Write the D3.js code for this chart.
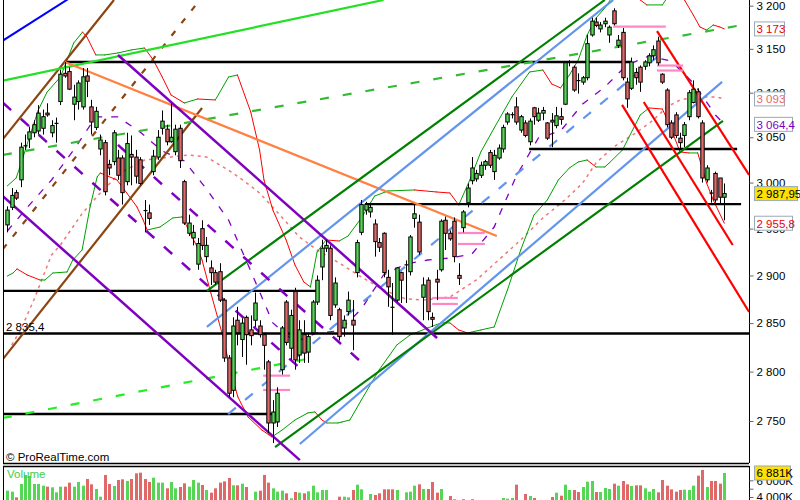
<!DOCTYPE html>
<html><head><meta charset="utf-8">
<script src="https://cdn.jsdelivr.net/npm/d3@7"></script>
<style>body{margin:0;background:#fff;} svg{display:block;font-family:"Liberation Sans",Arial,sans-serif;}</style>
</head><body><svg id="c" width="800" height="500"></svg>
<script>
// ---------- DATA ----------
const opens=[2954,2973,2989,3003,3040,3048,3055,3057,3060,3077,3055,3065,3090,3122,3124,3087,3090,3084,3119,3084,3061,3037,3044,3020,3023,3027,3027,3001,3031,3028,3025,2970,2967,3012,3028,3060,3059,3045,3034,3060,3001,2945,2940,2912,2950,2920,2908,2903,2904,2874,2814,2781,2853,2833,2856,2843,2853,2847,2838,2810,2748,2749,2802,2872,2824,2883,2817,2838,2820,2840,2872,2909,2929,2929,2869,2864,2845,2862,2853,2903,2946,2970,2968,2955,2935,2945,2898,2867,2874,2903,2911,2904,2961,2957,2877,2895,2856,2896,2906,2959,2945,2958,2900,2951,2978,3002,3004,3008,3019,3033,3012,3027,3037,3067,3075,3084,3058,3066,3045,3083,3069,3077,3066,3069,3063,3073,3087,3134,3129,3114,3112,3117,3166,3181,3173,3179,3166,3194,3154,3169,3112,3105,3123,3129,3130,3134,3142,3159,3121,3103,3066,3075,3049,3052,3073,3089,3101,3066,3003,2989,3010,3005,2984];
const highs=[2974,2994,2992,3044,3053,3062,3069,3086,3081,3088,3069,3072,3126,3135,3129,3109,3114,3128,3128,3092,3084,3053,3047,3025,3058,3036,3030,3055,3052,3036,3028,2981,2976,3036,3058,3080,3064,3088,3064,3064,3003,2965,2954,2940,2959,2941,2916,2906,2913,2876,2817,2856,2867,2855,2858,2858,2882,2853,2840,2812,2771,2784,2847,2874,2864,2887,2853,2853,2840,2874,2900,2938,2938,2932,2898,2866,2858,2883,2874,2938,2981,2979,2978,2960,2940,2946,2906,2892,2909,2904,2916,2943,2976,2965,2898,2898,2861,2906,2960,2963,2948,2962,2913,2970,2999,3028,3014,3023,3025,3036,3036,3042,3064,3078,3078,3095,3075,3069,3071,3084,3083,3084,3067,3077,3084,3083,3135,3137,3131,3122,3119,3166,3186,3186,3181,3186,3177,3197,3166,3174,3117,3140,3128,3131,3137,3145,3154,3164,3122,3105,3069,3078,3055,3067,3103,3114,3105,3069,3019,2992,3012,3005,2999];
const lows=[2946,2970,2981,2995,3036,3038,3050,3053,3053,3073,3050,3044,3086,3117,3103,3069,3081,3081,3095,3053,3058,3030,2986,3008,3019,3003,2976,2997,2997,2999,2997,2946,2954,3008,3025,3053,3041,3044,3030,3016,2954,2942,2932,2906,2927,2914,2890,2890,2872,2810,2774,2774,2827,2815,2807,2827,2846,2835,2802,2738,2728,2744,2797,2827,2812,2802,2809,2809,2809,2838,2869,2895,2925,2853,2866,2832,2836,2858,2822,2898,2943,2965,2962,2920,2925,2898,2867,2838,2872,2871,2871,2900,2951,2922,2853,2853,2846,2874,2904,2927,2937,2914,2890,2946,2973,2998,3001,3005,3014,3016,3003,3025,3033,3064,3071,3064,3055,3050,3041,3064,3067,3069,3047,3039,3060,3064,3086,3130,3101,3099,3109,3114,3164,3175,3169,3175,3157,3177,3151,3114,3083,3103,3109,3101,3126,3130,3137,3131,3110,3061,3048,3049,3038,3039,3069,3088,3071,3000,3000,2978,2978,2976,2959];
const closes=[2970,2986,2983,3039,3041,3056,3064,3077,3073,3075,3063,3066,3121,3119,3104,3095,3111,3118,3113,3067,3079,3047,2990,3016,3055,3008,2989,3043,3028,3007,2999,2969,2961,3029,3050,3068,3045,3050,3059,3024,2956,2956,2946,2934,2932,2932,2903,2893,2874,2814,2778,2847,2840,2850,2838,2837,2871,2838,2827,2748,2759,2778,2845,2830,2858,2812,2843,2819,2836,2872,2895,2929,2932,2858,2892,2836,2853,2874,2848,2935,2976,2976,2973,2936,2930,2903,2888,2866,2908,2895,2911.5,2941,2966,2925,2890,2862,2854,2893,2958,2945,2939,2920,2897,2968,2994,3016,3010,3019,3023,3019,3030,3038,3061,3076,3075.5,3067,3073,3052,3068,3073,3077,3080,3049,3067,3074,3070,3134,3135,3103,3113.5,3117,3156,3182,3177,3177.5,3182,3175,3179,3160,3117,3093,3135,3117,3112,3135,3142,3149,3134,3112,3064,3050,3052,3044,3064,3100,3104,3073,3005,3016,2988,2981,2984,2987.95];
const volumes=[4761,4641,3961,5561,6641,6521,5561,5561,5361,5241,5161,4561,5241,5241,5721,5241,5801,5361,6161,5521,4961,4041,6641,5561,5321,6041,6121,5921,6161,6841,6921,6161,5801,6321,5721,5721,5041,5801,5041,5201,5641,5241,6041,5721,5441,4841,4521,5041,5721,5881,6281,5401,5401,5601,5201,3500,4641,4761,6641,5721,5041,4641,4761,4441,3841,4601,4521,4441,4681,5361,4561,4841,4841,3500,3500,4041,4041,3961,4841,5481,4921,3500,4361,4241,4441,4921,4921,4921,4841,3500,4561,4641,5361,5521,4961,4961,5801,4521,4961,3500,4121,3721,3500,3761,3500,3761,3500,3500,3500,3500,3500,3500,3881,3801,3881,5481,3500,4361,4121,3881,3500,3500,3500,4001,4521,4161,5481,4841,4841,4601,5201,5841,5921,4601,4601,5081,4961,5601,5361,5921,5521,5321,5401,5401,5041,4641,4961,4561,6041,5361,4921,4641,4841,4881,4841,5361,6561,7241,5201,5921,5921,5601,6881];
const priceTicks=[2750,2800,2850,2900,2950,3000,3050,3100,3150,3200];
const volumeTicks=[4000,5000,6000];
const volumeTickLabels=[4000,6000];

// Bollinger upper / lower (index, price)
const bbUpIdx=[0,2,3,5,7,9,12,13.5,15,17,18,20,22,25,28,31,33,35,37,40,43,47,50,52,55,57,58,60,63,65,67,68.5,70,72,75,77,80,83,86,92,97,100,102,104.5,107,110,114,118,121,123,125,127,129,131,133,135,137,139,141,143,144.5,148,150,152,153,155,156.5,158,159.5,161,162];
const bbUp=[2996.3,3005.0,3019.3,3050.3,3080.5,3100.8,3117.8,3137.2,3156.7,3169.4,3163.6,3143.0,3143.0,3145.3,3148.7,3151.0,3137.2,3117.8,3097.4,3088.4,3092.9,3091.8,3117.8,3120.1,3078.3,3035.9,3002.8,2970.1,2937.8,2911.1,2893.1,2887.9,2925.0,2937.8,2936.7,2942.1,2961.5,2985.3,2990.8,2991.9,2989.7,2988.6,2975.6,3002.8,3033.7,3060.3,3095.2,3123.5,3125.8,3109.9,3105.4,3120.1,3137.2,3165.9,3185.6,3197.3,3212.5,3223.1,3216.0,3206.7,3200.9,3200.9,3216.0,3216.0,3206.7,3189.1,3175.2,3171.7,3177.5,3175.2,3173.0];
const bbLoIdx=[0,1.3,2.2,4.5,7.4,8.5,10.3,13.5,14.8,16.9,18.7,20.3,21,24.8,27,29.3,30.7,31.6,34.5,37.4,39.5,41.3,42.9,44,45.8,48.5,50.8,52.1,54.4,57.5,59.8,62.1,65,67.9,69.5,71.1,72.2,74.7,75.6,77.4,80,84,88,91,95,98,100,102,104,107,110,113,116,119,122,124.5,127,129,131,133,135,136,139,143,145,148,149.5,152,154,156,158,159.5,162];
const bbLo=[2899.4,2902.6,2906.9,2900.5,2895.2,2895.2,2902.6,2903.7,2916.4,2927.1,2973.4,3006.1,3010.5,3002.8,2988.6,2973.4,2959.3,2948.5,2951.7,2961.5,2962.6,2945.3,2930.3,2916.4,2884.7,2839.8,2794.6,2774.2,2754.0,2741.0,2734.0,2741.0,2751.0,2758.1,2759.1,2751.0,2748.0,2748.0,2749.0,2751.0,2771.2,2801.7,2827.3,2837.7,2845.0,2850.2,2850.2,2842.9,2839.8,2842.9,2846.0,2884.7,2927.1,2964.7,2981.0,3002.8,3016.0,3022.6,3024.8,3017.1,3017.1,3021.5,3035.9,3074.9,3082.8,3081.6,3065.9,3033.7,3032.6,3032.6,2999.5,2981.0,2955.8];
const bbMidIdx=[0,5,10,15,20,25,30,35,40,45,50,55,60,65,70,75,80,85,90,95,100,105,110,115,120,125,130,135,140,145,150,155,160,162];
const bbMid=[2947.4,2975.6,3002.8,3035.9,3072.7,3072.7,3055.9,3034.8,3023.7,2993.0,2959.3,2904.7,2850.2,2830.4,2839.8,2841.9,2864.7,2900.5,2912.2,2916.4,2918.5,2922.9,2951.7,3007.2,3049.2,3057.0,3087.3,3106.5,3131.5,3141.8,3136.0,3111.0,3074.9,3064.4];
const maIdx=[1,3,6,10,12,17,21,25.5,31,37,41,45,51,55,57,62,66,70,75,80,85,90,94,100,106,111,116,121,126,130,133,137,142,146,149,152,156,160,162];
const maVal=[2827.3,2842.9,2874.2,2921.8,2932.4,2966.9,2988.6,3010.5,3024.8,3028.1,3030.4,3028.1,3010.5,2996.3,2988.6,2962.6,2941.0,2927.1,2913.2,2898.4,2884.7,2875.3,2874.2,2877.3,2895.2,2916.4,2937.8,2961.5,2981.0,2999.5,3021.5,3039.2,3054.8,3069.3,3083.9,3091.8,3095.2,3095.2,3093.0];

// trend lines: [[index,price],[index,price]]
const trendLines=[
 {p:[[-1,3159.5],[14,3208.6]],c:"#0000ff",w:2},
 {p:[[-1,3048],[24.1,3206.7]],c:"#8b4513",w:2.2},
 {p:[[-1,2812.8],[44,3082.8]],c:"#8b4513",w:2.2},
 {p:[[-1,2928],[43.5,3206.7]],c:"#8b4513",w:2.2,d:"6,10"},
 {p:[[-1,3113.6],[85,3206.7]],c:"#22e022",w:2.2},
 {p:[[-1,3030.4],[167.4,3178.7]],c:"#33bb33",w:2.2,d:"9,14"},
 {p:[[-1,2753],[70,2815]],c:"#22ee22",w:2.2,d:"9,14"},
 {p:[[13,3134.9],[110.6,2942.1]],c:"#ff8040",w:2.2},
 {p:[[45.1,2846],[136.9,3206.7]],c:"#6495ed",w:2.2},
 {p:[[66.1,2727],[161.5,3112.2]],c:"#6495ed",w:2.2},
 {p:[[49.9,2757],[147.9,3145.2]],c:"#6495ed",w:2.2,d:"10,12"},
 {p:[[45.1,2883.7],[135,3206.7]],c:"#008000",w:2.2},
 {p:[[60.5,2724],[161.7,3068.2]],c:"#008000",w:2.2},
 {p:[[25,3143],[97.1,2834.6]],c:"#8000c0",w:2.5},
 {p:[[-1,2985.2],[66.1,2711]],c:"#8000c0",w:2.5},
 {p:[[-1,3088.6],[67.3,2798.8]],c:"#8000c0",w:2.5,d:"11,13"},
 {p:[[25,3041.5],[79.7,2810.9]],c:"#8000c0",w:2.5,d:"11,13"},
 {p:[[146.8,3170.5],[167.6,3008.3]],c:"#ff0000",w:2.2},
 {p:[[138.9,3086.2],[167.6,2861.6]],c:"#ff0000",w:2.2},
 {p:[[143.8,3089.5],[163.9,2932.4]],c:"#ff0000",w:2.2}
];
// horizontal support/resistance lines: [startIndex, endIndex, price]
const hLines=[[13,141.1,3134.9],[117.9,164.9,3037],[80.8,165.8,2976.5],[-1,70,2883.7],[-1,168,2839.3],[-1,59.8,2757]];
// pink short levels
const pinkLines=[[136.9,148.8,3175.7],[146.8,152.7,3130.9],[146.8,152.7,3125.2],[101.8,107.9,2945.3],[101.8,107.9,2933.5],[96,101.8,2876.3],[96,101.8,2870.0],[57.8,63.9,2795.9],[57.8,63.9,2781.3]];

// ---------- DRAW ----------
const svg=d3.select("#c");
const x=d3.scaleLinear().domain([0,162]).range([7.3,724.3]);
const y=d3.scaleLog().domain([2750,3200]).range([421,5.7]);
const yv=d3.scaleLinear().domain([3641,7721]).range([500,466]);
const GREEN="#55d655", RED="#e06868";

svg.append("rect").attr("width",800).attr("height",500).attr("fill","#fff");
const defs=svg.append("defs");
defs.append("clipPath").attr("id","cm").append("rect").attr("x",3).attr("y",0).attr("width",746).attr("height",463);
defs.append("clipPath").attr("id","cv").append("rect").attr("x",3).attr("y",466).attr("width",746).attr("height",34);

const g=svg.append("g").attr("clip-path","url(#cm)");
const line=d3.line().x(d=>x(d[0])).y(d=>y(d[1]));

// pink MA
g.append("path").attr("d",line(maIdx.map((d,i)=>[d,maVal[i]]))).attr("fill","none").attr("stroke","#ee7777").attr("stroke-width",1.5).attr("stroke-dasharray","3,4");
// bollinger middle
g.append("path").attr("d",line(bbMidIdx.map((d,i)=>[d,bbMid[i]]))).attr("fill","none").attr("stroke","#8000c0").attr("stroke-width",1.3).attr("stroke-dasharray","7,9");
// bands coloured by slope
function band(idx,val){
  for(let k=0;k<idx.length-1;k++){
    const up=val[k+1]>=val[k];
    g.append("line").attr("x1",x(idx[k])).attr("y1",y(val[k])).attr("x2",x(idx[k+1])).attr("y2",y(val[k+1]))
     .attr("stroke",up?"#00a000":"#ff0000").attr("stroke-width",1).attr("stroke-linecap","round");
  }
}
band(bbUpIdx,bbUp); band(bbLoIdx,bbLo);

// horizontal black lines
hLines.forEach(h=>g.append("line").attr("x1",x(h[0])).attr("x2",x(h[1])).attr("y1",y(h[2])).attr("y2",y(h[2])).attr("stroke","#000").attr("stroke-width",2.4));
// trend lines
trendLines.forEach(t=>g.append("path").attr("d",line(t.p)).attr("stroke",t.c).attr("stroke-width",t.w).attr("fill","none").attr("stroke-dasharray",t.d||null));
// pink levels
pinkLines.forEach(h=>g.append("line").attr("x1",x(h[0])).attr("x2",x(h[1])).attr("y1",y(h[2])).attr("y2",y(h[2])).attr("stroke","#ff88c4").attr("stroke-width",2.2));

// candles
const bw=3.4;
opens.forEach((o,i)=>{
  const c=closes[i], cx=Math.round(x(i))+0.5;
  g.append("line").attr("x1",cx).attr("x2",cx).attr("y1",y(highs[i])).attr("y2",y(lows[i])).attr("stroke","#000").attr("stroke-width",1);
  const top=y(Math.max(o,c)), bot=y(Math.min(o,c));
  if(bot-top<1.2){
    g.append("line").attr("x1",cx-2).attr("x2",cx+2).attr("y1",(top+bot)/2).attr("y2",(top+bot)/2).attr("stroke","#000").attr("stroke-width",1.2);
  } else {
    g.append("rect").attr("x",cx-bw/2).attr("y",top).attr("width",bw).attr("height",bot-top)
     .attr("fill",c>=o?GREEN:RED).attr("stroke","#000").attr("stroke-width",1);
  }
});

// frames
svg.append("line").attr("x1",3.5).attr("x2",3.5).attr("y1",0).attr("y2",463).attr("stroke","#000");
svg.append("line").attr("x1",3).attr("x2",749).attr("y1",463.5).attr("y2",463.5).attr("stroke","#000").attr("stroke-width",1.5);
svg.append("line").attr("x1",749.5).attr("x2",749.5).attr("y1",0).attr("y2",463).attr("stroke","#000");
svg.append("line").attr("x1",3).attr("x2",749).attr("y1",466.5).attr("y2",466.5).attr("stroke","#000").attr("stroke-width",1.5);
svg.append("line").attr("x1",3.5).attr("x2",3.5).attr("y1",466).attr("y2",500).attr("stroke","#000");
svg.append("line").attr("x1",749.5).attr("x2",749.5).attr("y1",466).attr("y2",500).attr("stroke","#000");

// price axis
const fmt=v=>d3.format(",")(v).replace(/,/g," ");
const ax=d3.axisRight(y).tickValues(priceTicks).tickFormat(fmt).tickSize(4).tickPadding(3);
const axg=svg.append("g").attr("transform","translate(749.5,0)").call(ax);
axg.select(".domain").remove();
axg.selectAll("text").attr("font-size",11.5).attr("font-family","Liberation Sans, Arial, sans-serif").attr("fill","#000");
axg.selectAll(".tick line").attr("stroke","#666");

// volume
const vg=svg.append("g").attr("clip-path","url(#cv)");
volumes.forEach((v,i)=>{
  vg.append("rect").attr("x",Math.round(x(i))-1).attr("y",yv(v)).attr("width",3).attr("height",Math.max(0,500-yv(v)))
    .attr("fill",closes[i]>=opens[i]?GREEN:RED);
});
const vax=d3.axisRight(yv).tickValues(volumeTicks).tickFormat(d=>volumeTickLabels.includes(d)?fmt(d/1000)+" 000K":"").tickSize(4).tickPadding(3);
const vaxg=svg.append("g").attr("transform","translate(749.5,0)").call(vax);
vaxg.select(".domain").remove();
vaxg.selectAll("text").attr("font-size",11.5).attr("font-family","Liberation Sans, Arial, sans-serif");
vaxg.selectAll(".tick line").attr("stroke","#666");

// value boxes
function box(val,scale,text,col,fill,w){
  const yy=scale(val);
  svg.append("rect").attr("x",754.5).attr("y",yy-7).attr("width",w).attr("height",14).attr("fill",fill).attr("stroke","#9aaab8").attr("stroke-width",1);
  svg.append("text").attr("x",756.5).attr("y",yy+4.3).attr("font-size",11.5).attr("fill",col).text(text);
}
box(3173,y,"3 173","#ee0000","#fff",30);
box(3093,y,"3 093","#ee6666","#fff",30);
box(3064.4,y,"3 064,4","#8000c0","#fff",38);
box(2955.8,y,"2 955,8","#ee0000","#fff",38);
box(2987.95,y,"2 987,95","#000","#ffe000",43);
box(6881,yv,"6 881K","#000","#ffe000",36);

// texts
svg.append("text").attr("x",6).attr("y",y(2839.3)-2.5).attr("font-size",11.5).text("2 835,4");
svg.append("text").attr("x",6).attr("y",461).attr("font-size",11.5).text("© ProRealTime.com");
svg.append("text").attr("x",7).attr("y",478).attr("font-size",11.5).attr("fill","#44cc44").text("Volume");
</script></body></html>
